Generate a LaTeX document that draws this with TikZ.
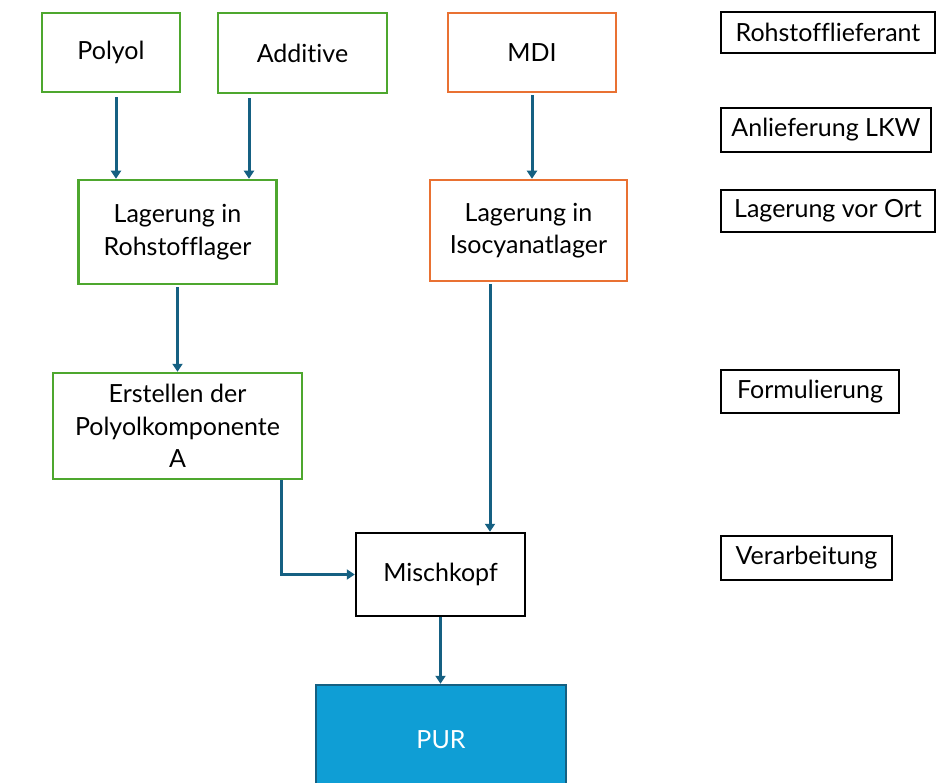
\documentclass[tikz,border=0pt]{standalone}
\usepackage{fontspec}
\setmainfont{Lato}[Ligatures=NoCommon]
\usetikzlibrary{arrows.meta}
\definecolor{cgreen}{HTML}{4EA72E}
\definecolor{corange}{HTML}{E97132}
\definecolor{carrow}{HTML}{156082}
\definecolor{cpur}{HTML}{0F9ED5}
\definecolor{cpurb}{HTML}{156082}
\tikzset{
  x=1pt,y=-1pt,
  box/.style={draw, line width=2.5pt, align=center, inner sep=0pt, font=\fontsize{25}{32.5}\selectfont, text=black},
  gbox/.style={box, draw=cgreen},
  obox/.style={box, draw=corange},
  kbox/.style={box, draw=black},
  lbl/.style={draw=black, line width=2pt, inner sep=0pt, font=\fontsize{25}{32}\selectfont},
  arr/.style={draw=carrow, line width=3pt, -{Triangle[width=10pt,length=8pt]}},
}
\begin{document}
\begin{tikzpicture}
\useasboundingbox (0,0) rectangle (944,783);
% left column nodes
\node[gbox, minimum width=138, minimum height=79] (polyol) at (111,52.5) {Polyol};
\node[gbox, minimum width=169, minimum height=80] (additive) at (302.5,53) {Addi\kern0pt tive};
\node[obox, minimum width=168, minimum height=79] (mdi) at (532,52.5) {MDI};
\node[gbox, minimum width=198, minimum height=104] (rohlager) at (177.5,232) {Lagerung in\\Rohstofflager};
\node[obox, minimum width=197, minimum height=101] (isolager) at (528.5,230.5) {Lagerung in\\Isocyanatlager};
\node[gbox, minimum width=249, minimum height=106] (erstellen) at (177.5,426) {Erstellen der\\Polyolkomponente\\A};
\node[kbox, minimum width=169, minimum height=83] (misch) at (440.5,574.5) {Mischkopf};
\node[box, draw=cpurb, fill=cpur, text=white, minimum width=250, minimum height=120] (pur) at (441,745) {};
\node[text=white, font=\fontsize{25}{32}\selectfont] (purtxt) at (441,740) {PUR};
% right labels
\node[lbl, minimum width=214, minimum height=41] (l1) at (828,32.5) {Rohstofflieferant};
\node[lbl, minimum width=210, minimum height=44] (l2) at (826,130) {Anlieferung LKW};
\node[lbl, minimum width=214, minimum height=42] (l3) at (828,211) {Lagerung vor Ort};
\node[lbl, minimum width=178, minimum height=43] (l4) at (810,391.5) {Formulierung};
\node[lbl, minimum width=171, minimum height=44] (l5) at (806.5,558) {Verarbeitung};
% connectors
\draw[arr] ([xshift=5pt,yshift=-4pt]polyol.south) -- ([xshift=5pt]polyol.south |- rohlager.north);
\draw[arr] ([xshift=-53.5pt,yshift=-4pt]additive.south) -- ([xshift=-53.5pt]additive.south |- rohlager.north);
\draw[arr] ([yshift=-2pt]mdi.south) -- (mdi.south |- isolager.north);
\draw[arr] ([yshift=-2pt]rohlager.south) -- (erstellen.north);
\draw[arr] ([xshift=-38.5pt,yshift=-2pt]isolager.south) -- ([xshift=-38.5pt]isolager.south |- misch.north);
\draw[arr] ([xshift=103.5pt]erstellen.south) |- (misch.west);
\draw[arr] (misch.south) -- (misch.south |- pur.north);
\end{tikzpicture}
\end{document}
